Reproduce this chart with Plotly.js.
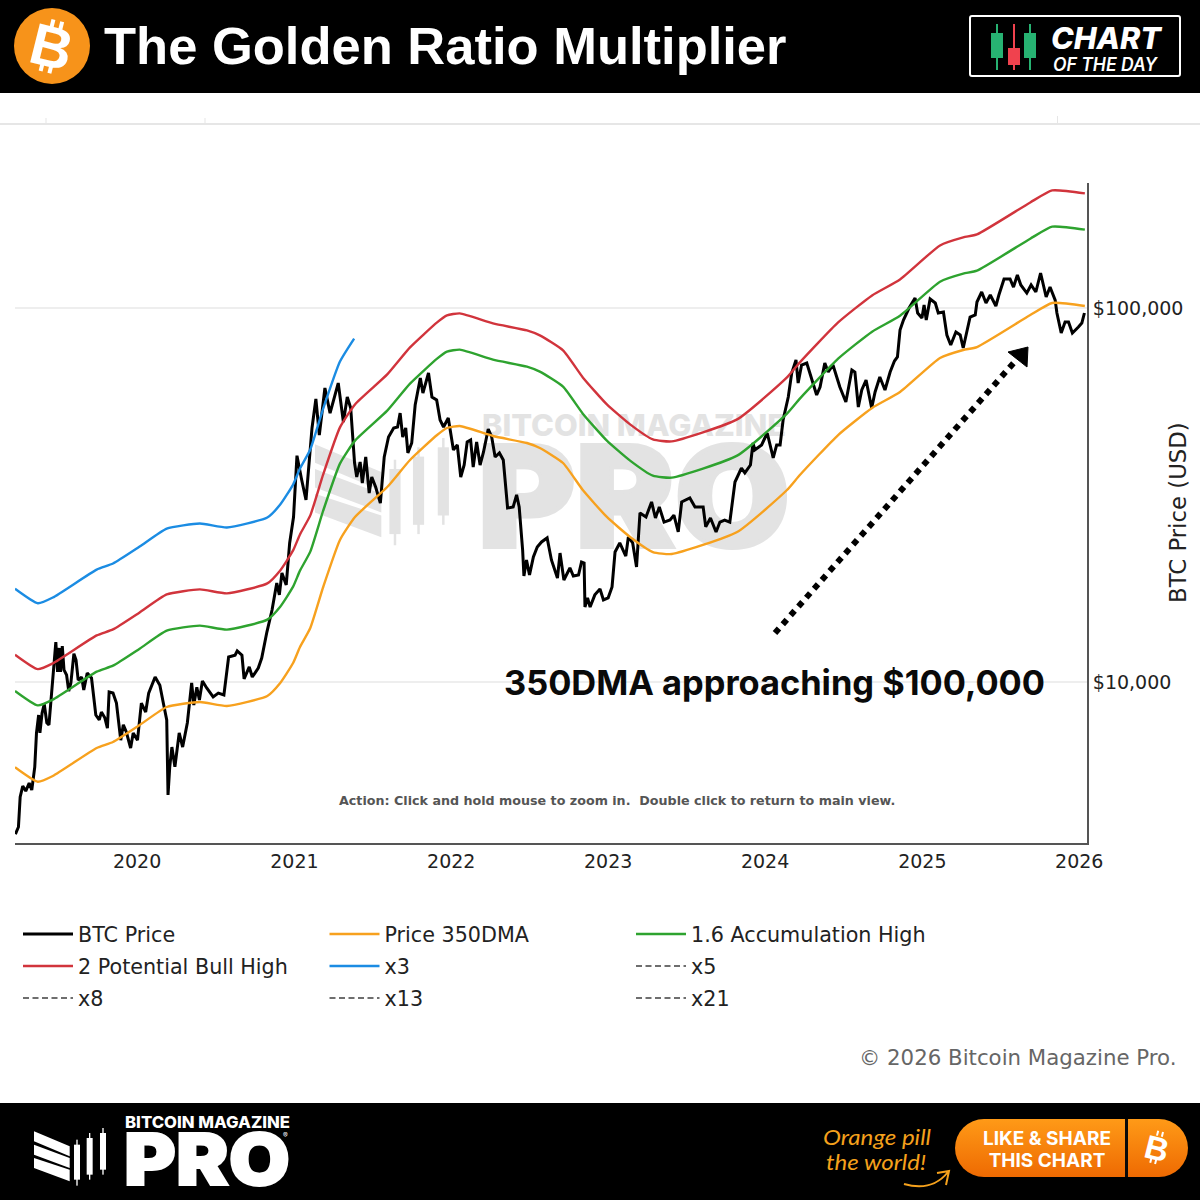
<!DOCTYPE html>
<html><head><meta charset="utf-8">
<script src="https://cdn.plot.ly/plotly-3.0.1.min.js"></script>
<style>
html,body{margin:0;padding:0;background:#fff;width:1200px;height:1200px;overflow:hidden}
#plot{position:absolute;left:0;top:0;width:1200px;height:1200px;z-index:2}
.deco{position:absolute;left:0;top:0;z-index:1}
</style></head><body>
<svg class="deco" width="1200" height="1200" viewBox="0 0 1200 1200" font-family="Inter, 'Liberation Sans', sans-serif">
  <defs>
    <g id="bmp">
      <polygon points="0,10 107,55 107,85 0,40"/><polygon points="0,50 107,90 107,120 0,80"/><polygon points="0,90 107,125 107,160 0,120"/>
      <rect x="120" y="50" width="18" height="105"/><rect x="127" y="35" width="4" height="138"/>
      <rect x="158" y="30" width="18" height="110"/><rect x="165" y="15" width="4" height="140"/>
      <rect x="198" y="15" width="18" height="110"/><rect x="205" y="0" width="4" height="140"/>
    </g>
    <linearGradient id="btn" x1="0" y1="0" x2="0" y2="1"><stop offset="0" stop-color="#ff9a17"/><stop offset="1" stop-color="#ee6a02"/></linearGradient>
  </defs>
  <rect x="0" y="0" width="1200" height="93" fill="#000"/>
  <rect x="0" y="1103" width="1200" height="97" fill="#000"/>
  <rect x="0" y="123" width="1200" height="2" fill="#e6e6e6"/>
  <rect x="45.5" y="118" width="1" height="5" fill="#e6e6e6"/><rect x="204.5" y="118" width="1" height="5" fill="#e6e6e6"/><rect x="1057" y="116" width="1" height="7" fill="#e6e6e6"/>
  <!-- watermark -->
  <g fill="#e3e3e3"><use href="#bmp" transform="translate(315,438) scale(.62)"/></g>
  <text x="482" y="436" fill="#e3e3e3" font-size="30" font-weight="800" textLength="304" lengthAdjust="spacingAndGlyphs">BITCOIN MAGAZINE</text>
  <text x="478" y="547" fill="#e3e3e3" stroke="#e3e3e3" stroke-width="4" font-size="140" font-weight="900" textLength="312" lengthAdjust="spacingAndGlyphs">PRO</text>
  <!-- header logo -->
  <circle cx="52" cy="46" r="38" fill="#f7931a"/>
  <g transform="rotate(14 52 46)" fill="#fff">
    <text x="52" y="67" text-anchor="middle" font-family="Liberation Sans" font-weight="700" font-size="58">B</text>
    <rect x="45" y="20" width="4" height="8"/><rect x="54" y="20" width="4" height="8"/><rect x="45" y="65" width="4" height="8"/><rect x="54" y="65" width="4" height="8"/>
  </g>
  <!-- chart of the day -->
  <rect x="970" y="16" width="210" height="60" rx="2" fill="none" stroke="#fff" stroke-width="2"/>
  <g fill="#27b272"><rect x="996" y="24" width="2" height="46"/><rect x="991" y="33" width="12" height="25"/><rect x="1029" y="24" width="2" height="46"/><rect x="1024" y="33" width="12" height="25"/></g>
  <g fill="#f0424e"><rect x="1013" y="24" width="2" height="46"/><rect x="1008" y="48" width="12" height="17"/></g>
  <text x="1051" y="49" fill="#fff" font-size="30" font-weight="800" font-style="italic" textLength="110" lengthAdjust="spacingAndGlyphs">CHART</text>
  <text x="1053" y="71" fill="#fff" font-size="18" font-weight="600" font-style="italic" textLength="104" lengthAdjust="spacingAndGlyphs">OF THE DAY</text>
  <!-- footer -->
  <g fill="#fff"><use href="#bmp" transform="translate(34,1128) scale(.3333)"/></g>
  <text x="125" y="1128" fill="#fff" font-size="16" font-weight="800" textLength="165" lengthAdjust="spacingAndGlyphs">BITCOIN MAGAZINE</text>
  <text x="124" y="1185" fill="#fff" stroke="#fff" stroke-width="2" font-size="72" font-weight="900" textLength="166" lengthAdjust="spacingAndGlyphs">PRO</text>
  <text x="283" y="1138" fill="#fff" font-size="7">®</text>
  <text x="823" y="1145" fill="#f5a11c" font-size="22" font-style="italic" font-family="Lato" textLength="108" lengthAdjust="spacingAndGlyphs">Orange pill</text>
  <text x="826" y="1170" fill="#f5a11c" font-size="22" font-style="italic" font-family="Lato" textLength="100" lengthAdjust="spacingAndGlyphs">the world!</text>
  <path d="M904 1184 Q932 1192 948 1172 M937 1173 L949 1171 L946 1185" fill="none" stroke="#f5a11c" stroke-width="2"/>
  <rect x="955" y="1119" width="233" height="58" rx="29" fill="url(#btn)"/>
  <rect x="1125" y="1119" width="3" height="58" fill="#0a0a0a"/>
  <text x="1047" y="1145" fill="#fff" font-size="19" font-weight="700" text-anchor="middle">LIKE &amp; SHARE</text>
  <text x="1047" y="1167" fill="#fff" font-size="19" font-weight="700" text-anchor="middle">THIS CHART</text>
  <g transform="rotate(14 1157 1148)" fill="#fff">
    <text x="1157" y="1160" text-anchor="middle" font-family="Liberation Sans" font-weight="700" font-size="33">B</text>
    <rect x="1153" y="1131" width="2" height="5"/><rect x="1158" y="1131" width="2" height="5"/><rect x="1153" y="1159" width="2" height="5"/><rect x="1158" y="1159" width="2" height="5"/>
  </g>
</svg>
<div id="plot"></div>
<script>
// ---- Data ----
const btcYears = [2019.227,2019.244,2019.255,2019.272,2019.293,2019.314,2019.329,2019.350,2019.361,2019.374,2019.382,2019.395,2019.410,2019.425,2019.441,2019.457,2019.484,2019.495,2019.505,2019.514,2019.524,2019.535,2019.552,2019.567,2019.580,2019.599,2019.611,2019.626,2019.648,2019.662,2019.683,2019.711,2019.737,2019.760,2019.775,2019.796,2019.813,2019.822,2019.849,2019.871,2019.898,2019.913,2019.934,2019.960,2019.976,2020.004,2020.030,2020.055,2020.076,2020.115,2020.146,2020.172,2020.189,2020.199,2020.210,2020.223,2020.242,2020.268,2020.291,2020.320,2020.348,2020.363,2020.380,2020.397,2020.416,2020.444,2020.486,2020.518,2020.554,2020.582,2020.624,2020.639,2020.667,2020.683,2020.715,2020.734,2020.773,2020.794,2020.826,2020.858,2020.890,2020.906,2020.922,2020.949,2020.970,2020.996,2021.017,2021.049,2021.075,2021.113,2021.138,2021.161,2021.197,2021.229,2021.255,2021.282,2021.314,2021.339,2021.361,2021.384,2021.399,2021.420,2021.435,2021.457,2021.478,2021.495,2021.520,2021.550,2021.573,2021.601,2021.633,2021.658,2021.675,2021.692,2021.711,2021.724,2021.750,2021.771,2021.803,2021.820,2021.855,2021.877,2021.909,2021.930,2021.951,2021.983,2022.015,2022.040,2022.062,2022.083,2022.104,2022.126,2022.142,2022.164,2022.185,2022.206,2022.238,2022.259,2022.280,2022.308,2022.333,2022.359,2022.397,2022.418,2022.435,2022.457,2022.465,2022.482,2022.499,2022.524,2022.550,2022.578,2022.613,2022.641,2022.678,2022.694,2022.720,2022.758,2022.779,2022.811,2022.832,2022.847,2022.854,2022.871,2022.885,2022.917,2022.949,2022.970,2023.002,2023.027,2023.045,2023.076,2023.115,2023.129,2023.157,2023.183,2023.204,2023.242,2023.278,2023.304,2023.327,2023.357,2023.395,2023.420,2023.448,2023.469,2023.522,2023.554,2023.607,2023.624,2023.654,2023.688,2023.713,2023.745,2023.777,2023.794,2023.809,2023.852,2023.873,2023.909,2023.926,2023.936,2023.979,2024.015,2024.053,2024.075,2024.096,2024.117,2024.148,2024.170,2024.197,2024.212,2024.234,2024.266,2024.297,2024.329,2024.350,2024.382,2024.403,2024.433,2024.478,2024.514,2024.552,2024.573,2024.594,2024.616,2024.643,2024.680,2024.701,2024.732,2024.764,2024.796,2024.823,2024.842,2024.860,2024.881,2024.917,2024.955,2024.970,2024.998,2025.013,2025.025,2025.051,2025.083,2025.104,2025.136,2025.157,2025.183,2025.215,2025.242,2025.263,2025.279,2025.306,2025.338,2025.349,2025.380,2025.408,2025.433,2025.469,2025.490,2025.522,2025.561,2025.582,2025.607,2025.629,2025.667,2025.694,2025.726,2025.756,2025.790,2025.815,2025.847,2025.858,2025.885,2025.911,2025.932,2025.958,2025.996,2026.017,2026.034];
const btcPrice = [3920,4095,4930,5270,5110,5370,5140,5930,7310,8160,7310,8260,8730,7780,7680,9230,12790,10640,12330,10640,12480,10770,10440,9460,9940,11900,11450,10120,10310,9520,10570,10250,8160,7920,8310,8020,7530,9400,9340,8780,6990,7680,7350,6660,7310,6990,8780,8310,9340,10310,9800,8680,7920,4990,5930,6700,5930,7310,6700,7780,9940,8680,9680,8950,10060,9640,9120,9340,9230,11660,11790,12110,11790,10190,10970,10310,10900,11590,13600,15580,18400,17100,19570,18180,23540,27620,40280,34680,30670,47770,57110,45750,61110,52360,57810,63000,49560,57810,54030,38510,35330,38750,34040,39960,31990,35330,33210,30100,39960,45200,47770,48070,52360,45200,47770,40970,43560,55020,65000,59240,67020,57810,56760,50180,48070,50800,41730,43030,35330,38030,43830,44370,37570,43830,38030,41220,47480,45200,39960,40970,39230,29190,29370,31640,29370,22540,19200,21200,19320,21590,22960,23690,24280,21200,18970,22120,18740,20180,19200,19320,20940,20810,15870,16790,15870,17100,17730,16570,16790,17950,22260,23540,21720,24420,23540,20300,28320,27620,30300,27450,29370,26770,27110,27950,25190,30300,31050,29370,29370,25980,27450,25190,26770,27110,26770,30100,34250,37340,36240,38030,43560,41730,43030,46320,39720,43030,43030,50180,57810,67020,72600,63000,70400,71280,64990,58520,61490,71280,67440,70400,61490,56060,68290,67440,54360,60360,64180,54030,59630,65400,60360,67440,72160,73950,87320,92880,100000,106350,96970,94020,101860,92880,105700,103130,96970,97550,84680,79630,86250,84680,78190,84680,94590,95780,103760,110350,103130,108340,101240,108340,119540,119540,113780,122530,115200,109660,115200,110350,124050,107000,113780,105000,96970,85730,91740,91740,85730,88970,91150,96970];
const dmaYears = [2019.223,2019.369,2019.465,2019.745,2019.847,2020.019,2020.191,2020.401,2020.573,2020.828,2020.911,2020.994,2021.038,2021.102,2021.185,2021.293,2021.389,2021.592,2021.739,2021.911,2021.975,2022.057,2022.268,2022.484,2022.567,2022.713,2022.841,2022.994,2023.140,2023.287,2023.408,2023.822,2024.140,2024.223,2024.465,2024.682,2024.860,2025.115,2025.261,2025.350,2025.688,2025.828,2026.038];
const price350DMA = [5916,5412,5607,6660,6912,7674,8573,8841,8627,9175,9938,11240,12406,13947,17947,23975,27620,33215,39230,45750,47770,48370,45470,43550,42230,38510,32610,27620,24420,22260,21990,25180,32610,35770,45750,54030,59620,73500,77230,78650,95780,103130,101240];
const accumulationHigh = [9466,8659,8971,10656,11059,12278,13717,14146,13803,14680,15901,17984,19850,22315,28715,38360,44192,53144,62768,73200,76432,77392,72752,69680,67568,61616,52176,44192,39072,35616,35184,40288,52176,57232,73200,86448,95392,117600,123568,125840,153248,165008,161984];
const bullHigh = [11832,10824,11214,13320,13824,15348,17146,17682,17254,18350,19876,22480,24812,27894,35894,47950,55240,66430,78460,91500,95540,96740,90940,87100,84460,77020,65220,55240,48840,44520,43980,50360,65220,71540,91500,108060,119240,147000,154460,157300,191560,206260,202480];
const x3Years = [2019.223,2019.369,2019.465,2019.745,2019.847,2020.019,2020.191,2020.401,2020.573,2020.828,2020.911,2020.994,2021.038,2021.102,2021.185,2021.293,2021.382];
const x3Values = [17748,16236,16821,19980,20736,23022,25719,26523,25881,27525,29814,33720,37218,41841,53841,71925,82860];
// The higher Fibonacci multiples belong to earlier cycles, left of the visible range
const x5Years = [2017.60,2017.96], x5Values = [14000,40000];
const x8Years = [2014.00,2014.25], x8Values = [1800,3000];
const x13Years = [2013.20,2013.30], x13Values = [900,1500];
const x21Years = [2011.40,2011.45], x21Values = [120,200];
const xTickYears = [2020,2021,2022,2023,2024,2025,2026];
const yTickValues = [10000,100000];
const yTickLabels = ["$10,000","$100,000"];

const toDate = y => { const f=Math.floor(y), a=Date.UTC(f,0,1), b=Date.UTC(f+1,0,1);
  return new Date(a+(y-f)*(b-a)).toISOString().slice(0,10); };
const px = x => (x-15)/1072, py = y => (843-y)/660;
const line = (name,xs,ys,color,width,row,dash,smooth) => ({type:'scatter',mode:'lines',name,legend:row,x:xs.map(toDate),y:ys,
  line:{color,width,dash:dash||'solid',shape:smooth?'spline':'linear',smoothing:smooth?0.5:undefined},hoverinfo:'x+y'});
const DJ = '"DejaVu Sans", sans-serif';
const dashed = '#6e6e6e';
const traces = [
  line('BTC Price',btcYears,btcPrice,'#000000',3,'legend'),
  line('Price 350DMA',dmaYears,price350DMA,'#f7a11e',2.4,'legend',null,true),
  line('1.6 Accumulation High',dmaYears,accumulationHigh,'#2ea32f',2.4,'legend',null,true),
  line('2 Potential Bull High',dmaYears,bullHigh,'#d1343c',2.4,'legend2',null,true),
  line('x3',x3Years,x3Values,'#1b8ce3',2.4,'legend2',null,true),
  line('x5',x5Years,x5Values,dashed,2,'legend2','6px,3.5px'),
  line('x8',x8Years,x8Values,dashed,2,'legend3','6px,3.5px'),
  line('x13',x13Years,x13Values,dashed,2,'legend3','6px,3.5px'),
  line('x21',x21Years,x21Values,dashed,2,'legend3','6px,3.5px')
];
const legendRow = y => ({orientation:'h',x:px(18),xanchor:'left',y:py(y),yanchor:'middle',entrywidth:241.5,entrywidthmode:'pixels',itemwidth:50,
    font:{size:20.7,color:'#222',family:DJ},bgcolor:'rgba(0,0,0,0)',traceorder:'normal'});
const layout = {
  width:1200,height:1200,autosize:false,
  paper_bgcolor:'rgba(0,0,0,0)',plot_bgcolor:'rgba(0,0,0,0)',
  margin:{l:15,r:113,t:183,b:357,pad:0},
  font:{family:DJ,color:'#222'},
  title:{text:'<b>The Golden Ratio Multiplier</b>',x:104/1200,xanchor:'left',xref:'container',y:1-46/1200,yref:'container',yanchor:'middle',
    font:{family:'"Liberation Sans", sans-serif',size:52.5,color:'#ffffff'}},
  xaxis:{type:'date',range:[toDate(2019.223),toDate(2026.05)],tickvals:xTickYears.map(y=>y+'-01-01'),ticktext:xTickYears.map(String),
    showgrid:false,zeroline:false,showline:true,linecolor:'#555',linewidth:2,ticks:'',tickfont:{size:19,color:'#222',family:DJ}},
  yaxis:{type:'log',side:'right',range:[Math.log10(3711),Math.log10(215900)],tickvals:yTickValues,ticktext:yTickLabels,
    showgrid:true,gridcolor:'#eeeeee',gridwidth:2,zeroline:false,showline:true,linecolor:'#555',linewidth:2,ticks:'',
    tickfont:{size:19,color:'#222',family:DJ}},
  legend:legendRow(934),legend2:legendRow(966),legend3:legendRow(998),
  annotations:[
    {xref:'paper',yref:'paper',x:px(1178),y:py(513),text:'BTC Price (USD)',textangle:-90,showarrow:false,xanchor:'center',yanchor:'middle',
      font:{family:DJ,size:22.8,color:'#222'}},
    {xref:'paper',yref:'paper',x:px(774.5),y:py(682),text:'<b>350DMA approaching $100,000</b>',showarrow:false,xanchor:'center',yanchor:'middle',
      font:{family:'Inter, sans-serif',size:34.4,color:'#0a0a0a'}},
    {xref:'paper',yref:'paper',x:px(617),y:py(800),text:'<b>Action: Click and hold mouse to zoom in.  Double click to return to main view.</b>',showarrow:false,xanchor:'center',yanchor:'middle',
      font:{family:DJ,size:12.7,color:'#555'}},
    {xref:'paper',yref:'paper',x:px(1178),y:py(1057),text:'© 2026 Bitcoin Magazine Pro.',showarrow:false,xanchor:'right',yanchor:'middle',
      font:{family:DJ,size:21.3,color:'#666'}}
  ],
  shapes:[
    {type:'line',xref:'paper',yref:'paper',x0:px(775),y0:py(633),x1:px(1018),y1:py(358),line:{color:'#000',width:6,dash:'6px,5.8px'}},
    {type:'path',xref:'paper',yref:'paper',fillcolor:'#000',line:{color:'#000',width:1},
     path:`M${px(1028)},${py(347)} L${px(1008)},${py(352)} L${px(1027)},${py(367)} Z`}
  ]
};
Plotly.newPlot('plot',traces,layout,{displayModeBar:false});
</script>
</body></html>
